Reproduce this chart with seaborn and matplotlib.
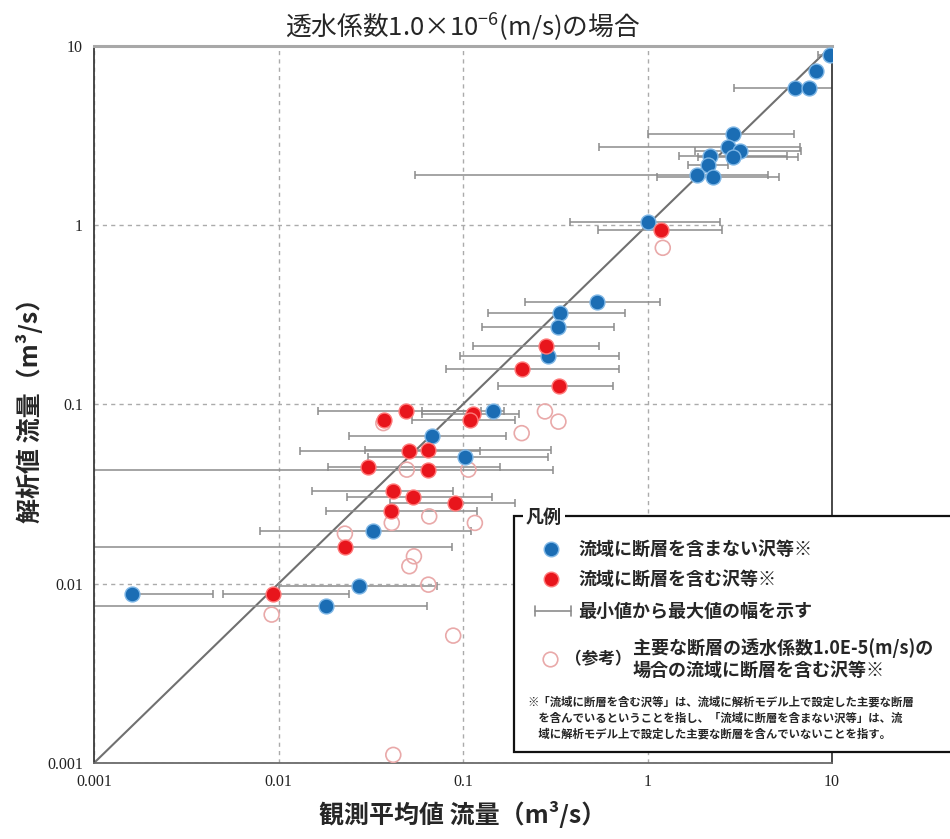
import matplotlib
matplotlib.use("Agg")
import numpy as np
import pandas as pd
import seaborn as sns
import matplotlib.pyplot as plt
from matplotlib.patches import Rectangle
from matplotlib.lines import Line2D

# ---- streams without a modelled fault: observed mean, computed, observed min / max
blue_obs = [9.75, 8.19, 6.33, 7.53, 2.92, 2.74, 3.17, 2.90, 2.18, 2.14, 1.86, 2.27,
            1.01, 0.531, 0.336, 0.329, 0.288, 0.146, 0.0676, 0.1026, 0.0324, 0.0274,
            0.0181, 0.0016]
blue_calc = [8.85, 7.24, 5.82, 5.82, 3.21, 2.71, 2.59, 2.40, 2.42, 2.16, 1.90, 1.86,
             1.04, 0.371, 0.322, 0.268, 0.185, 0.092, 0.0668, 0.0506, 0.0196, 0.00975,
             0.00754, 0.00879]
blue_min = [8.4, 8.19, 2.95, 7.53, 1.0, 0.546, 1.81, 1.88, 1.48, 1.65, 0.055, 1.12,
            0.38, 0.217, 0.136, 0.126, 0.0964, 0.0597, 0.0241, 0.0307, 0.00794, 0.0101,
            0.0005, 0.0016]
blue_max = [10.5, 8.19, 10.5, 7.53, 6.22, 6.72, 6.8, 6.56, 5.72, 2.74, 4.5, 5.18,
            2.47, 1.17, 0.755, 0.657, 0.703, 0.166, 0.170, 0.29, 0.111, 0.0726,
            0.0641, 0.00443]

# ---- streams with a modelled fault
red_obs = [1.18, 0.281, 0.209, 0.331, 0.049, 0.0374, 0.114, 0.109, 0.0512, 0.0649,
           0.0307, 0.0649, 0.0419, 0.0538, 0.0906, 0.0408, 0.0228, 0.00931]
red_calc = [0.94, 0.21, 0.157, 0.126, 0.092, 0.082, 0.0885, 0.082, 0.0546, 0.0558,
            0.0447, 0.0432, 0.0327, 0.0304, 0.0281, 0.0253, 0.0161, 0.00879]
red_min = [0.54, 0.114, 0.0806, 0.155, 0.0163, 0.0374, 0.06, 0.0527, 0.0131, 0.0294,
           0.0185, 0.0005, 0.0151, 0.0234, 0.0402, 0.0182, 0.0005, 0.00502]
red_max = [2.54, 0.546, 0.70, 0.653, 0.125, 0.0374, 0.20, 0.191, 0.124, 0.30,
           0.158, 0.307, 0.0885, 0.143, 0.191, 0.119, 0.0869, 0.0242]

# ---- reference case: fault permeability 1.0E-5 m/s
ref_obs = [1.21, 0.278, 0.329, 0.208, 0.037, 0.0496, 0.107, 0.0656, 0.116, 0.0411,
           0.0229, 0.0542, 0.0512, 0.0649, 0.00918, 0.0885, 0.0419]
ref_calc = [0.745, 0.0912, 0.080, 0.069, 0.0785, 0.0432, 0.0432, 0.0237, 0.0218, 0.0218,
            0.019, 0.0142, 0.0125, 0.00987, 0.00672, 0.00513, 0.00111]

decades = [0.001, 0.01, 0.1, 1, 10]
decade_labels = ["0.001", "0.01", "0.1", "1", "10"]

BLUE = "#1b6db4"
RED = "#e8151c"
PINK = "#e9a9a9"
BAR = "#8c8c8c"

blue = pd.DataFrame({"obs": blue_obs, "calc": blue_calc, "lo": blue_min, "hi": blue_max})
red = pd.DataFrame({"obs": red_obs, "calc": red_calc, "lo": red_min, "hi": red_max})
ref = pd.DataFrame({"obs": ref_obs, "calc": ref_calc})

sns.set_theme(style="white")
plt.rcParams["font.family"] = ["Noto Sans CJK JP", "DejaVu Sans"]
plt.rcParams["axes.unicode_minus"] = False

W, H = 950, 839
fig = plt.figure(figsize=(W / 100, H / 100), dpi=100)
ax = fig.add_axes([94 / W, 1 - 763 / H, (832 - 94) / W, (763 - 45.5) / H])
ax.set_xscale("log")
ax.set_yscale("log")
ax.set_xlim(decades[0], decades[-1])
ax.set_ylim(decades[0], decades[-1])

ax.grid(True, which="major", color="#ababab", linestyle=(0, (3, 3)), linewidth=1.0)
ax.minorticks_off()
ax.set_xticks(decades)
ax.set_xticklabels(decade_labels)
ax.set_yticks(decades)
ax.set_yticklabels(decade_labels)
ax.tick_params(length=0, pad=8, labelsize=11.5, labelcolor="#222222")
for lab in ax.get_xticklabels() + ax.get_yticklabels():
    lab.set_family("Liberation Serif")

for side, col, lw in [("left", "#3a3a3a", 1.3), ("bottom", "#6a6a6a", 1.3),
                      ("right", "#3a3a3a", 1.3), ("top", "#a8a8a8", 2.2)]:
    ax.spines[side].set_color(col)
    ax.spines[side].set_linewidth(lw)

# 1:1 line
ax.plot(decades, decades, color="#707070", lw=1.5, zorder=1)

# min-max range of the observations
for df in (blue, red):
    ax.errorbar(df["obs"], df["calc"],
                xerr=[df["obs"] - df["lo"], df["hi"] - df["obs"]],
                fmt="none", ecolor=BAR, elinewidth=1.1, capsize=3, capthick=1.1, zorder=2)

sns.scatterplot(data=ref, x="obs", y="calc", ax=ax, s=115, facecolor="none",
                edgecolor=PINK, linewidth=1.2, zorder=3, legend=False)
sns.scatterplot(data=blue, x="obs", y="calc", ax=ax, s=115, color=BLUE,
                edgecolor="#7fb7e6", linewidth=1.0, zorder=4, legend=False)
sns.scatterplot(data=red, x="obs", y="calc", ax=ax, s=115, color=RED,
                edgecolor="#ff7a7a", linewidth=1.0, zorder=5, legend=False)

ax.set_xlabel("観測平均値 流量（m³/s）", fontsize=18, fontweight="bold")
ax.set_ylabel("解析値 流量（m³/s）", fontsize=18, fontweight="bold")
ax.xaxis.set_label_coords(0.5, -(815 - 763) / 717.5, transform=ax.transAxes)
ax.yaxis.set_label_coords(-(94 - 30) / 738, 0.5, transform=ax.transAxes)
ax.xaxis.label.set_va("center")
ax.yaxis.label.set_va("center")
ax.set_title("透水係数1.0×10$^{\\mathregular{-6}}$(m/s)の場合", fontsize=18.5, pad=7)


def fx(px):
    return px / W


def fy(py):
    return 1 - py / H


# legend panel
box = Rectangle((fx(514), fy(752)), fx(960) - fx(514), fy(516) - fy(752),
                transform=fig.transFigure, facecolor="white", edgecolor="#111111",
                linewidth=1.6, zorder=10, clip_on=False)
fig.add_artist(box)
fig.text(fx(526), fy(517), "凡例", fontsize=13, fontweight="bold", va="center", ha="left",
         zorder=12, bbox=dict(facecolor="white", edgecolor="none", pad=2.5))

fig.add_artist(Line2D([fx(551)], [fy(549)], marker="o", ms=10.5, color=BLUE,
                      markeredgecolor="#7fb7e6", transform=fig.transFigure, zorder=12))
fig.text(fx(578), fy(549), "流域に断層を含まない沢等※", fontsize=13, fontweight="bold",
         va="center", zorder=12)
fig.add_artist(Line2D([fx(551)], [fy(579)], marker="o", ms=10.5, color=RED,
                      markeredgecolor="#ff7a7a", transform=fig.transFigure, zorder=12))
fig.text(fx(578), fy(579), "流域に断層を含む沢等※", fontsize=13, fontweight="bold",
         va="center", zorder=12)
fig.add_artist(Line2D([fx(535), fx(571)], [fy(611), fy(611)], color=BAR, lw=1.2,
                      transform=fig.transFigure, zorder=12))
for cx in (535, 571):
    fig.add_artist(Line2D([fx(cx), fx(cx)], [fy(606), fy(616)], color=BAR, lw=1.2,
                          transform=fig.transFigure, zorder=12))
fig.text(fx(578), fy(611), "最小値から最大値の幅を示す", fontsize=13, fontweight="bold",
         va="center", zorder=12)
fig.add_artist(Line2D([fx(550)], [fy(659)], marker="o", ms=10.5, color="none",
                      markeredgecolor=PINK, markeredgewidth=1.2, transform=fig.transFigure,
                      zorder=12))
fig.text(fx(565), fy(659), "（参考）", fontsize=12, fontweight="bold", va="center", zorder=12)
fig.text(fx(633), fy(659), "主要な断層の透水係数1.0E-5(m/s)の\n場合の流域に断層を含む沢等※",
         fontsize=13, fontweight="bold", va="center", linespacing=1.25, zorder=12)
fig.text(fx(527), fy(718),
         "※「流域に断層を含む沢等」は、流域に解析モデル上で設定した主要な断層\n"
         "　を含んでいるということを指し、「流域に断層を含まない沢等」は、流\n"
         "　域に解析モデル上で設定した主要な断層を含んでいないことを指す。",
         fontsize=8.2, fontweight="bold", va="center", linespacing=1.3, zorder=12)

fig.savefig("out.png", dpi=100, facecolor="white")
